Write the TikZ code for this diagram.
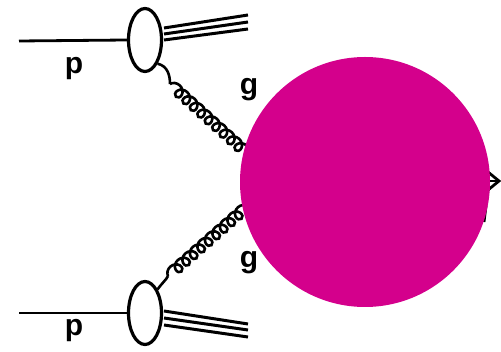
\documentclass[tikz,border=0pt]{standalone}
\usepackage{fontspec}
\setmainfont{Liberation Sans}
\usetikzlibrary{shapes.geometric,decorations.pathmorphing,calc}
\definecolor{blobc}{RGB}{212,0,140}
\begin{document}
\begin{tikzpicture}[x=1pt,y=-1pt,line width=2.8pt,
  had/.style={draw,ellipse,minimum width=33pt,minimum height=63pt,inner sep=0pt,line width=3.2pt},
  lab/.style={font=\fontsize{30}{30}\bfseries\selectfont,inner sep=0pt},
  gluon/.style={line width=2.6pt,decorate,decoration={coil,aspect=1,amplitude=5.5pt,segment length=10pt}},
  glue/.style={line width=2.6pt},
  jetl/.style={line width=3pt}]
\useasboundingbox (0,0) rectangle (501,352);
\node[had] (e1) at (145,40) {};
\node[had] (e2) at (145,313) {};
\coordinate (p1) at (19,41);
\coordinate (p2) at (19,313);
\draw (p1) -- (e1.west);
\draw (p2) -- (e2.west);
% remnant jets
\coordinate (j1a) at (248,15); \coordinate (j1b) at (248,22); \coordinate (j1c) at (248,29);
\draw[jetl] (164,28) -- (j1a); \draw[jetl] (164,34) -- (j1b); \draw[jetl] (164,40) -- (j1c);
\coordinate (j2a) at (248,324); \coordinate (j2b) at (248,330); \coordinate (j2c) at (248,337);
\draw[jetl] (164,311) -- (j2a); \draw[jetl] (164,318) -- (j2b); \draw[jetl] (164,325) -- (j2c);
% gluons
\coordinate (g1s) at (170,84);
\coordinate (g1) at (250,156);
\coordinate (g2s) at (168,276);
\coordinate (g2) at (250,204);
\draw[glue] (e1.-62) .. controls (168,66) and (170,76) .. (g1s);
\draw[gluon] (g1s) -- (g1);
\draw[glue] (e2.62) .. controls (163,282) and (166,280) .. (g2s);
\draw[gluon] (g2s) -- (g2);
% outgoing (hidden)
\coordinate (o1) at (500,181);
\draw (420,181) -- (o1);
\draw (488,172) -- (499,181) -- (488,190);
\draw (486,206) -- (484,222);
\node[circle,fill=blobc,minimum size=250pt,inner sep=0pt] (blob) at (365,182) {};
\node[lab] (lp1) at (74,69) {p};
\node[lab] (lp2) at (74,331) {p};
\node[lab] (lg1) at (249,90) {g};
\node[lab] (lg2) at (249,263) {g};
\end{tikzpicture}
\end{document}
